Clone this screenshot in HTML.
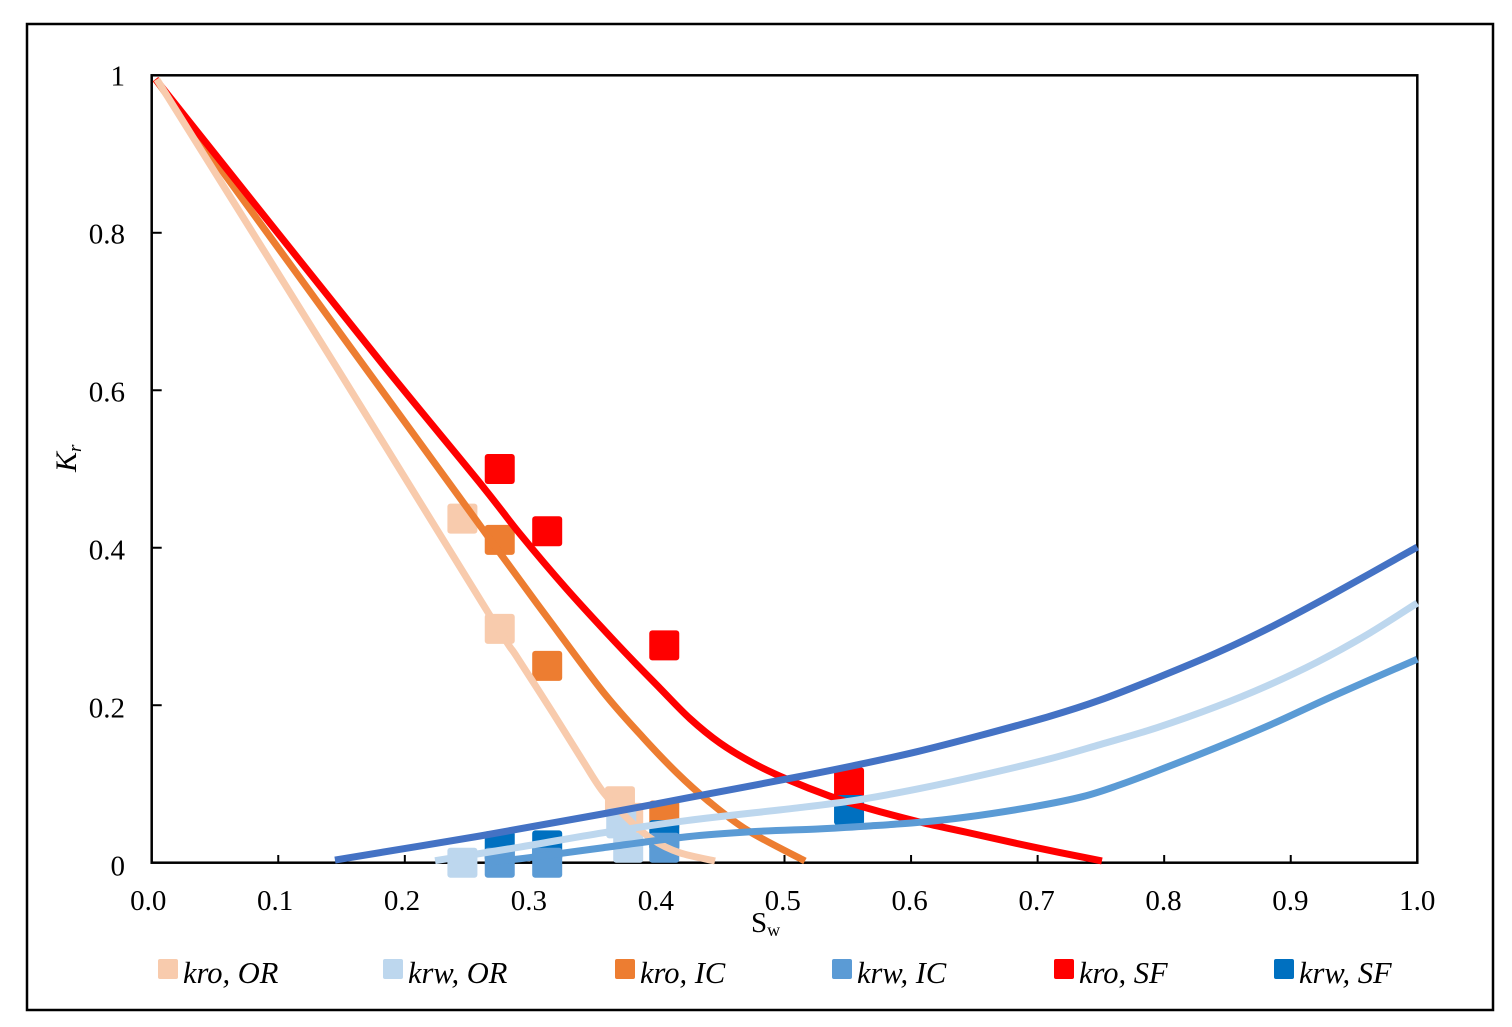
<!DOCTYPE html>
<html lang="en">
<head>
<meta charset="utf-8">
<title>Relative permeability curves</title>
<style>
html,body{margin:0;padding:0;background:#fff;width:1512px;height:1027px;overflow:hidden}
svg{display:block}
text{font-family:"Liberation Serif",serif;fill:#000}
</style>
</head>
<body>
<svg id="chart" xmlns="http://www.w3.org/2000/svg" width="1512" height="1027" viewBox="0 0 1512 1027">
<rect x="27" y="24" width="1466" height="986" fill="#fff" stroke="#000" stroke-width="2.5"/>
<rect x="151.7" y="75.3" width="1265.6" height="787.4" fill="#fff" stroke="#000" stroke-width="2.5"/>
<g id="ticks"></g>
<g id="tick-labels"></g>
<g id="markers"></g>
<g id="curves"></g>
<text x="751" y="932" font-size="29">S<tspan font-size="18" dy="4">w</tspan></text>
<text transform="translate(76 472) rotate(-90)" font-size="30" font-style="italic">K<tspan font-size="19" dy="5">r</tspan></text>
<g id="legend"></g>
</svg>
<script>
// Axis tick labels
const xTickValues = [0, 0.1, 0.2, 0.3, 0.4, 0.5, 0.6, 0.7, 0.8, 0.9, 1.0];
const xTickLabels = ['0.0', '0.1', '0.2', '0.3', '0.4', '0.5', '0.6', '0.7', '0.8', '0.9', '1.0'];
const yTickValues = [0, 0.2, 0.4, 0.6, 0.8, 1];
const yTickLabels = ['0', '0.2', '0.4', '0.6', '0.8', '1'];

// Measured points
const kroOrPointS = [0.2455, 0.275, 0.370, 0.3765];
const kroOrPointK = [0.437, 0.297, 0.078, 0.057];
const krwOrPointS = [0.2455, 0.371, 0.3765];
const krwOrPointK = [0, 0.050, 0.019];
const kroIcPointS = [0.275, 0.3125, 0.405];
const kroIcPointK = [0.410, 0.250, 0.060];
const krwIcPointS = [0.275, 0.3125, 0.405];
const krwIcPointK = [0, 0, 0.019];
const kroSfPointS = [0.275, 0.3125, 0.405, 0.551];
const kroSfPointK = [0.500, 0.421, 0.276, 0.102];
const krwSfPointS = [0.275, 0.3125, 0.405, 0.551];
const krwSfPointK = [0.021, 0.022, 0.035, 0.067];

// Fitted curves
const kroOrCurveS = [0.004, 0.145, 0.267, 0.2886, 0.3171, 0.3408, 0.3566, 0.3755, 0.3961, 0.4174, 0.4451];
const kroOrCurveK = [0.995, 0.632, 0.3146, 0.2612, 0.190, 0.1290, 0.0900, 0.0570, 0.0290, 0.0125, 0.0022];
const kroIcCurveS = [0.003, 0.1701, 0.2752, 0.3160, 0.3566, 0.3882, 0.4151, 0.4388, 0.4704, 0.5162];
const kroIcCurveK = [0.995, 0.6257, 0.3933, 0.3040, 0.2170, 0.1590, 0.1139, 0.0796, 0.0415, 0.0022];
const kroSfCurveS = [0.003, 0.0959, 0.1843, 0.2594, 0.2910, 0.3282, 0.3700, 0.4016, 0.4253, 0.4490, 0.4751, 0.5020, 0.5359, 0.5651, 0.6047, 0.6442, 0.6963, 0.7508];
const kroSfCurveK = [0.995, 0.8073, 0.6295, 0.4822, 0.4175, 0.3470, 0.2739, 0.2215, 0.1830, 0.1520, 0.1265, 0.1060, 0.0845, 0.0695, 0.0525, 0.0385, 0.0200, 0.0022];
const krwOrCurveS = [0.2239, 0.2910, 0.3566, 0.4230, 0.5122, 0.5572, 0.6047, 0.6568, 0.7098, 0.7493, 0.7943, 0.8416, 0.8811, 0.9206, 0.9602, 1.0];
const krwOrCurveK = [0.0025, 0.0199, 0.0380, 0.0535, 0.0700, 0.0796, 0.0935, 0.1115, 0.1320, 0.1500, 0.1715, 0.1985, 0.2245, 0.2545, 0.2895, 0.3298];
const krwIcCurveS = [0.2672, 0.2989, 0.3566, 0.4230, 0.4751, 0.5280, 0.5651, 0.6047, 0.6442, 0.6963, 0.7358, 0.7651, 0.7943, 0.8416, 0.8859, 0.9333, 1.0];
const krwIcCurveK = [0.0009, 0.0065, 0.0190, 0.0330, 0.0395, 0.0430, 0.0465, 0.0510, 0.0580, 0.0710, 0.0840, 0.0990, 0.1165, 0.1465, 0.1765, 0.2115, 0.2585];
const krwSfCurveS = [0.1448, 0.2594, 0.3566, 0.4230, 0.5122, 0.5572, 0.6047, 0.6568, 0.7098, 0.7493, 0.7943, 0.8416, 0.8859, 0.9333, 1.0];
const krwSfCurveK = [0.0034, 0.0339, 0.0620, 0.0822, 0.1095, 0.1241, 0.1410, 0.1625, 0.1860, 0.2065, 0.2346, 0.2665, 0.3005, 0.3410, 0.4009];

// Legend labels
const legendLabels = ['kro, OR', 'krw, OR', 'kro, IC', 'krw, IC', 'kro, SF', 'krw, SF'];

const NS = 'http://www.w3.org/2000/svg';
const COLORS = {kroOr:'#F8CBAD', krwOr:'#BDD7EE', kroIc:'#ED7D31', krwIc:'#5B9BD5', kroSf:'#FF0000', krwSf:'#0070C0', krwSfCurve:'#4472C4'};
const xAxis = s => 151.7 + 1265.6 * s;
const yAxis = k => 862.7 - 787.4 * k;
const make = (tag, parent) => { const e = document.createElementNS(NS, tag); document.getElementById(parent).appendChild(e); return e; };

xTickValues.forEach((v, i) => {
  if (i > 0 && i < xTickValues.length - 1) {
    const t = make('line', 'ticks');
    
    
    t.setAttribute('x1', xAxis(v)); t.setAttribute('x2', xAxis(v));
    t.setAttribute('y1', 862.7); t.setAttribute('y2', 855);
    t.setAttribute('stroke', '#000'); t.setAttribute('stroke-width', 2);
  }
  const l = make('text', 'tick-labels');
  
  
  l.setAttribute('x', xAxis(v) - 3.5 + 3.5 * v);
  l.setAttribute('y', 910);
  l.setAttribute('font-size', 29);
  l.setAttribute('text-anchor', 'middle');
  l.textContent = xTickLabels[i];
});

yTickValues.forEach((v, i) => {
  if (i > 0 && i < yTickValues.length - 1) {
    const t = make('line', 'ticks');
    
    
    t.setAttribute('x1', 151.7); t.setAttribute('x2', 161.7);
    t.setAttribute('y1', yAxis(v)); t.setAttribute('y2', yAxis(v));
    t.setAttribute('stroke', '#000'); t.setAttribute('stroke-width', 2);
  }
  const l = make('text', 'tick-labels');
  
  
  l.setAttribute('x', 125);
  l.setAttribute('y', yAxis(v) + 10 + 3 * (1 - v));
  l.setAttribute('font-size', 29);
  l.setAttribute('text-anchor', 'end');
  l.textContent = yTickLabels[i];
});

function drawMarkers(sVals, kVals, color) {
  sVals.forEach((s, i) => {
    const r = make('rect', 'markers');
    
    
    r.setAttribute('x', xAxis(s) - 15);
    r.setAttribute('y', yAxis(kVals[i]) - 15);
    r.setAttribute('width', 30);
    r.setAttribute('height', 30);
    r.setAttribute('rx', 3);
    r.setAttribute('fill', color);
  });
}
drawMarkers(kroOrPointS, kroOrPointK, COLORS.kroOr);
drawMarkers(krwOrPointS, krwOrPointK, COLORS.krwOr);
drawMarkers(kroIcPointS, kroIcPointK, COLORS.kroIc);
drawMarkers(kroSfPointS, kroSfPointK, COLORS.kroSf);
drawMarkers(krwSfPointS, krwSfPointK, COLORS.krwSf);
drawMarkers(krwIcPointS, krwIcPointK, COLORS.krwIc);

// Catmull-Rom smoothing through the read points
function curvePath(sVals, kVals) {
  const p = sVals.map((s, i) => [xAxis(s), yAxis(kVals[i])]);
  let d = 'M' + p[0][0].toFixed(2) + ' ' + p[0][1].toFixed(2);
  for (let i = 0; i < p.length - 1; i++) {
    const a = p[Math.max(i - 1, 0)], b = p[i], c = p[i + 1], e = p[Math.min(i + 2, p.length - 1)];
    const c1x = b[0] + (c[0] - a[0]) / 6, c1y = b[1] + (c[1] - a[1]) / 6;
    const c2x = c[0] - (e[0] - b[0]) / 6, c2y = c[1] - (e[1] - b[1]) / 6;
    d += 'C' + c1x.toFixed(2) + ' ' + c1y.toFixed(2) + ' ' + c2x.toFixed(2) + ' ' + c2y.toFixed(2) + ' ' + c[0].toFixed(2) + ' ' + c[1].toFixed(2);
  }
  return d;
}
function drawCurve(sVals, kVals, color) {
  const c = make('path', 'curves');
  
  
  c.setAttribute('d', curvePath(sVals, kVals));
  c.setAttribute('fill', 'none');
  c.setAttribute('stroke', color);
  c.setAttribute('stroke-width', 7);
  c.setAttribute('stroke-linejoin', 'round');
}
drawCurve(kroIcCurveS, kroIcCurveK, COLORS.kroIc);
drawCurve(kroSfCurveS, kroSfCurveK, COLORS.kroSf);
drawCurve(kroOrCurveS, kroOrCurveK, COLORS.kroOr);
drawCurve(krwOrCurveS, krwOrCurveK, COLORS.krwOr);
drawCurve(krwIcCurveS, krwIcCurveK, COLORS.krwIc);
drawCurve(krwSfCurveS, krwSfCurveK, COLORS.krwSfCurve);

const legendSwatchLeft = [158, 383, 615, 832, 1054, 1274];
const legendColors = [COLORS.kroOr, COLORS.krwOr, COLORS.kroIc, COLORS.krwIc, COLORS.kroSf, COLORS.krwSf];
legendLabels.forEach((label, i) => {
  const r = make('rect', 'legend');
  
  
  r.setAttribute('x', legendSwatchLeft[i]);
  r.setAttribute('y', 959);
  r.setAttribute('width', 20);
  r.setAttribute('height', 20);
  r.setAttribute('rx', 2);
  r.setAttribute('fill', legendColors[i]);
  const t = make('text', 'legend');
  
  
  t.setAttribute('x', legendSwatchLeft[i] + 25);
  t.setAttribute('y', 983);
  t.setAttribute('font-size', 30.5);
  t.setAttribute('font-style', 'italic');
  t.textContent = label;
});
</script>
</body>
</html>
